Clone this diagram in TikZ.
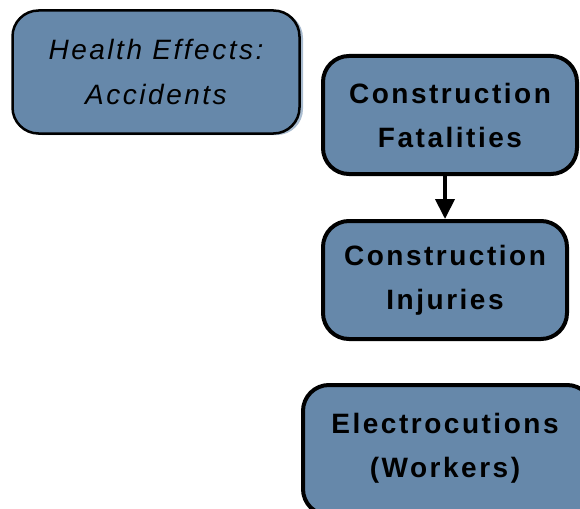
\documentclass[tikz,border=0pt]{standalone}
\usepackage{fontspec}
\setmainfont{Liberation Sans}[LetterSpace=9]
\usetikzlibrary{arrows.meta}
\definecolor{boxblue}{HTML}{6688AA}
\definecolor{shadeblue}{HTML}{A9BCD0}
\tikzset{
  varbox/.style={draw=black, fill=boxblue, rounded corners=26pt, align=center,
    font=\fontsize{28}{44}\selectfont\bfseries, inner sep=0pt},
  titlebox/.style={varbox, line width=2.5pt, font=\fontsize{28}{45}\selectfont\itshape},
  linkarrow/.style={line width=4pt, -{Triangle[width=19pt,length=20pt]}}
}
\begin{document}
\begin{tikzpicture}[x=1pt,y=-1pt]
  \useasboundingbox (0,0) rectangle (580,508);
  %%%%% boxes %%%%%
  \fill[shadeblue, rounded corners=26pt] (16,12) rectangle (303,135);
  \node[titlebox, minimum width=287pt, minimum height=123pt] (health) at (156,72) {Health Effects:\\Accidents};
  \node[varbox, line width=4pt, minimum width=254pt, minimum height=118pt] (fatal) at (450,115) {Construction\\Fatalities};
  \node[varbox, line width=4pt, minimum width=244pt, minimum height=118pt] (injur) at (445,280) {Construction\\Injuries};
  \node[varbox, line width=4pt, minimum width=290pt, minimum height=130pt] (elect) at (448,450) {};
  \node[font=\fontsize{28}{44}\selectfont\bfseries, align=center] (electxt) at (445,448) {Electrocutions\\(Workers)};
  %%%%% link %%%%%
  \draw[linkarrow] (fatal.south -| injur.north) -- (injur.north);
\end{tikzpicture}
\end{document}
